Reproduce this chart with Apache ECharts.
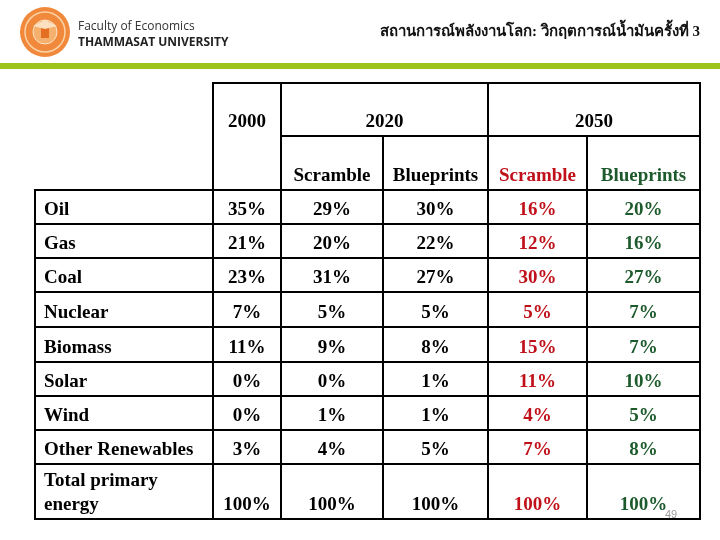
<!DOCTYPE html>
<html><head><meta charset="utf-8">
<script src="https://cdn.jsdelivr.net/npm/echarts@6/dist/echarts.min.js"></script>
<style>html,body{margin:0;padding:0;background:#fff}#c{width:720px;height:540px}</style>
</head><body><div id="c"></div>
<script>
// ---- data ----
const years = ['2000', '2020', '2050'];
const scenarios = ['Scramble', 'Blueprints', 'Scramble', 'Blueprints'];
const fuels = ['Oil', 'Gas', 'Coal', 'Nuclear', 'Biomass', 'Solar', 'Wind', 'Other Renewables', 'Total primary\nenergy'];
const share2000 = [35, 21, 23, 7, 11, 0, 0, 3, 100];
const scramble2020 = [29, 20, 31, 5, 9, 0, 1, 4, 100];
const blueprints2020 = [30, 22, 27, 5, 8, 1, 1, 5, 100];
const scramble2050 = [16, 12, 30, 5, 15, 11, 4, 7, 100];
const blueprints2050 = [20, 16, 27, 7, 7, 10, 5, 8, 100];

// ---- layout ----
const colWidths = [178, 68, 102, 105, 99, 113];
const rowHeights = [53, 54, 34, 34, 34, 35, 35, 34, 34, 34, 55];
const colEdges = [0]; colWidths.forEach(w => colEdges.push(colEdges[colEdges.length - 1] + w));
const rowEdges = [0]; rowHeights.forEach(h => rowEdges.push(rowEdges[rowEdges.length - 1] + h));
const RED = '#c0111b', GREEN = '#1d5a2c', BLACK = '#000';
const colColors = [BLACK, BLACK, BLACK, BLACK, RED, GREEN];

// cells: [c0, c1, r0, r1, textRow, text, align, color]
const cells = [];
cells.push([1, 2, 0, 2, 0, years[0], 'center', BLACK]);
cells.push([2, 4, 0, 1, 0, years[1], 'center', BLACK]);
cells.push([4, 6, 0, 1, 0, years[2], 'center', BLACK]);
scenarios.forEach((s, i) => cells.push([2 + i, 3 + i, 1, 2, 1, s, 'center', colColors[2 + i]]));
const valueCols = [share2000, scramble2020, blueprints2020, scramble2050, blueprints2050];
fuels.forEach((f, i) => {
  const r = 2 + i;
  cells.push([0, 1, r, r + 1, r, f, 'left', BLACK]);
  valueCols.forEach((arr, j) => cells.push([1 + j, 2 + j, r, r + 1, r, arr[i] + '%', 'center', colColors[1 + j]]));
});

const chart = echarts.init(document.getElementById('c'), null, { renderer: 'canvas' });
chart.setOption({
  animation: false,
  backgroundColor: '#fff',
  grid: { left: 35, top: 83, width: colEdges[colEdges.length - 1], height: rowEdges[rowEdges.length - 1] },
  xAxis: { type: 'value', min: 0, max: colEdges[colEdges.length - 1], show: false },
  yAxis: { type: 'value', min: 0, max: rowEdges[rowEdges.length - 1], inverse: true, show: false },
  graphic: [
    { type: 'rect', shape: { x: 0, y: 63, width: 720, height: 6 }, style: { fill: '#9dc41c' } },
    { type: 'circle', shape: { cx: 45, cy: 32, r: 25 }, style: { fill: '#f0893c' } },
    { type: 'circle', shape: { cx: 45, cy: 32, r: 20 }, style: { fill: 'none', stroke: '#fbd2a4', lineWidth: 1.5 } },
    { type: 'circle', shape: { cx: 45, cy: 32, r: 12 }, style: { fill: '#f6b06e', stroke: '#fde3c6', lineWidth: 1 } },
    { type: 'rect', shape: { x: 41, y: 24, width: 8, height: 14 }, style: { fill: '#e46f22' } },
    { type: 'polygon', shape: { points: [[33, 26], [45, 20], [57, 26], [45, 29]] }, style: { fill: '#fde0bf' } },
    { type: 'text', style: { x: 78, y: 27, text: 'Faculty of Economics', font: '12px "Open Sans", sans-serif', fill: '#333', verticalAlign: 'middle' } },
    { type: 'text', style: { x: 78, y: 43, text: 'THAMMASAT UNIVERSITY', font: 'bold 12px "Open Sans", sans-serif', fill: '#222', verticalAlign: 'middle' } },
    { type: 'text', style: { x: 700, y: 32, text: 'สถานการณ์พลังงานโลก: วิกฤตการณ์น้ำมันครั้งที่ 3', font: 'bold 15px "Liberation Serif", serif', fill: '#111', align: 'right', verticalAlign: 'middle' } },
    { type: 'text', style: { x: 671, y: 515, text: '49', font: '11px "Liberation Sans", sans-serif', fill: '#9a9a9a', align: 'center', verticalAlign: 'middle' } }
  ],
  series: [{
    type: 'custom',
    coordinateSystem: 'cartesian2d',
    encode: { x: [0, 1], y: [2, 3] },
    data: cells.map(c => [colEdges[c[0]], colEdges[c[1]], rowEdges[c[2]], rowEdges[c[3]], rowEdges[c[4] + 1]]),
    renderItem: function (params, api) {
      const cell = cells[params.dataIndex];
      const p0 = api.coord([api.value(0), api.value(2)]);
      const p1 = api.coord([api.value(1), api.value(3)]);
      const tb = api.coord([api.value(0), api.value(4)]);
      const lines = cell[5].split('\n').length;
      const ty = tb[1] - 14 - (lines - 1) * 12;
      const tx = cell[6] === 'left' ? p0[0] + 9 : (p0[0] + p1[0]) / 2;
      return {
        type: 'group',
        children: [
          { type: 'rect', shape: { x: p0[0], y: p0[1], width: p1[0] - p0[0], height: p1[1] - p0[1] },
            style: { fill: 'none', stroke: '#000', lineWidth: 2 } },
          { type: 'text', style: { x: tx, y: ty, text: cell[5], fill: cell[7], align: cell[6], verticalAlign: 'middle',
            font: 'bold 19px "Liberation Serif", "Times New Roman", serif', lineHeight: 24 } }
        ]
      };
    }
  }]
});
</script></body></html>
